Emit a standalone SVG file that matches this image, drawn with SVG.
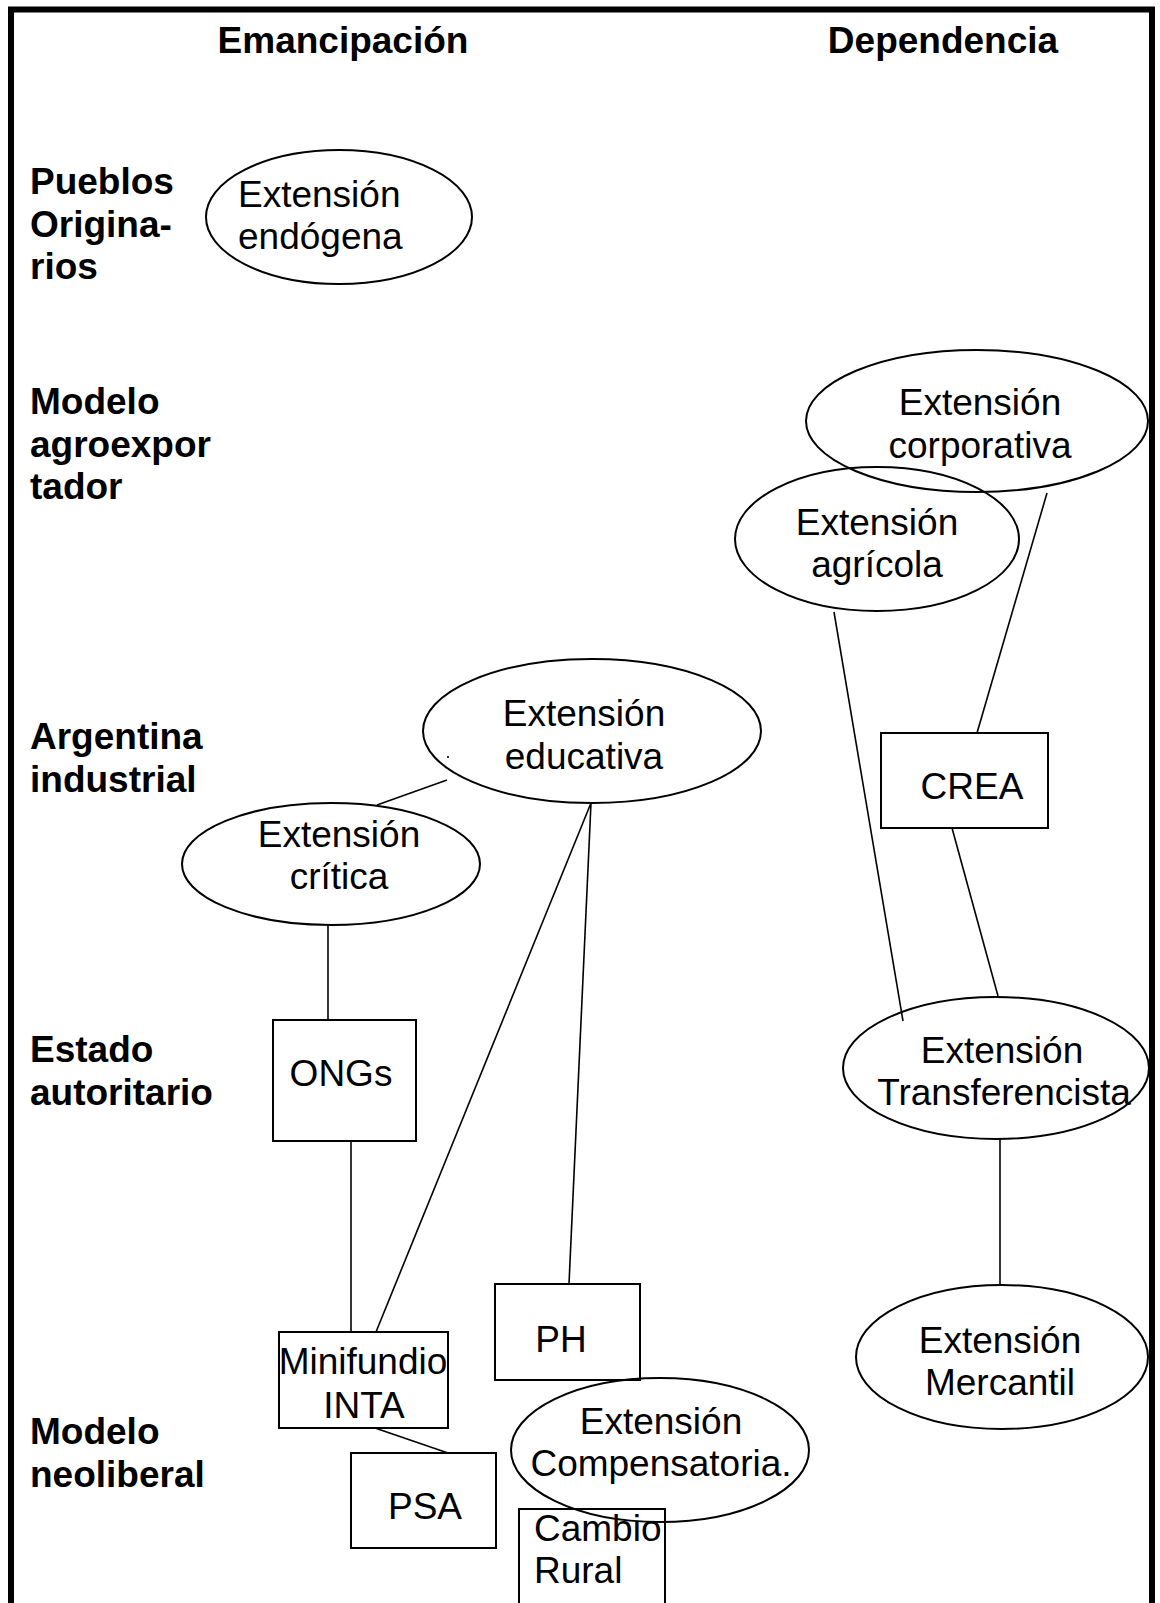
<svg xmlns="http://www.w3.org/2000/svg" width="1160" height="1603" viewBox="0 0 1160 1603">
<style>
.lbl{font-family:"Liberation Sans",Arial,sans-serif;font-size:37px;font-weight:bold;fill:#000}
.t{font-family:"Liberation Sans",Arial,sans-serif;font-size:37px;fill:#000}
.c{text-anchor:middle}
.sh{fill:none;stroke:#000;stroke-width:2}
.ln{stroke:#000;stroke-width:1.6;fill:none}
</style>
<rect width="1160" height="1603" fill="#fff"/>
<rect x="11" y="9.5" width="1141" height="1700" fill="none" stroke="#000" stroke-width="6"/>
<g id="headers">
<text class="lbl c" x="343" y="53">Emancipación</text>
<text class="lbl c" x="943" y="53">Dependencia</text>
</g>
<g id="row-labels">
<text class="lbl" x="30" y="194">Pueblos</text>
<text class="lbl" x="30" y="237">Origina-</text>
<text class="lbl" x="30" y="279">rios</text>
<text class="lbl" x="30" y="414">Modelo</text>
<text class="lbl" x="30" y="457">agroexpor</text>
<text class="lbl" x="30" y="499">tador</text>
<text class="lbl" x="30" y="749">Argentina</text>
<text class="lbl" x="30" y="792">industrial</text>
<text class="lbl" x="30" y="1062">Estado</text>
<text class="lbl" x="30" y="1105">autoritario</text>
<text class="lbl" x="30" y="1444">Modelo</text>
<text class="lbl" x="30" y="1487">neoliberal</text>
</g>
<g id="connectors">
<line class="ln" x1="447" y1="780" x2="377" y2="805"/>
<line class="ln" x1="328" y1="925" x2="328" y2="1020"/>
<line class="ln" x1="351" y1="1141" x2="351" y2="1332"/>
<line class="ln" x1="591" y1="803" x2="376" y2="1332"/>
<line class="ln" x1="591" y1="803" x2="569" y2="1284"/>
<line class="ln" x1="375" y1="1428" x2="448" y2="1453"/>
<line class="ln" x1="834" y1="612" x2="903" y2="1021"/>
<line class="ln" x1="1047" y1="493" x2="977" y2="733"/>
<line class="ln" x1="952" y1="828" x2="998" y2="996"/>
<line class="ln" x1="1000" y1="1139" x2="1000" y2="1284"/>
</g>
<g id="n-endogena">
<ellipse class="sh" cx="339" cy="217" rx="133" ry="67"/>
<text class="t" x="238" y="207">Extensión</text>
<text class="t" x="238" y="249">endógena</text>
</g>
<g id="n-corporativa">
<ellipse class="sh" cx="977" cy="421" rx="171" ry="71"/>
<text class="t c" x="980" y="415">Extensión</text>
<text class="t c" x="980" y="458">corporativa</text>
</g>
<g id="n-agricola">
<ellipse class="sh" cx="877" cy="539" rx="142" ry="72"/>
<text class="t c" x="877" y="535">Extensión</text>
<text class="t c" x="877" y="577">agrícola</text>
</g>
<g id="n-educativa">
<ellipse class="sh" cx="592" cy="731" rx="169" ry="72"/>
<text class="t c" x="584" y="726">Extensión</text>
<text class="t c" x="584" y="769">educativa</text>
<circle cx="448" cy="757" r="1.1" fill="#000"/>
</g>
<g id="n-critica">
<ellipse class="sh" cx="331" cy="864" rx="149" ry="61"/>
<text class="t c" x="339" y="847">Extensión</text>
<text class="t c" x="339" y="889">crítica</text>
</g>
<g id="n-crea">
<rect class="sh" x="881" y="733" width="167" height="95"/>
<text class="t c" x="972" y="799">CREA</text>
</g>
<g id="n-transferencista">
<ellipse class="sh" cx="996" cy="1068" rx="153" ry="71"/>
<text class="t c" x="1002" y="1063">Extensión</text>
<text class="t c" x="1004" y="1105">Transferencista</text>
</g>
<g id="n-mercantil">
<ellipse class="sh" cx="1002" cy="1357" rx="146" ry="72"/>
<text class="t c" x="1000" y="1353">Extensión</text>
<text class="t c" x="1000" y="1395">Mercantil</text>
</g>
<g id="n-ongs">
<rect class="sh" x="273" y="1020" width="143" height="121"/>
<text class="t c" x="341" y="1086">ONGs</text>
</g>
<g id="n-minifundio">
<rect class="sh" x="279" y="1332" width="169" height="96"/>
<text class="t c" x="363" y="1374">Minifundio</text>
<text class="t c" x="364" y="1418">INTA</text>
</g>
<g id="n-ph">
<rect class="sh" x="495" y="1284" width="145" height="96"/>
<text class="t c" x="561" y="1352">PH</text>
</g>
<g id="n-psa">
<rect class="sh" x="351" y="1453" width="145" height="95"/>
<text class="t c" x="425" y="1519">PSA</text>
</g>
<g id="n-cambio">
<rect class="sh" x="519" y="1509" width="146" height="200"/>
<text class="t" x="534" y="1541">Cambio</text>
<text class="t" x="534" y="1583">Rural</text>
</g>
<g id="n-compensatoria">
<ellipse class="sh" cx="660" cy="1450" rx="149" ry="72"/>
<text class="t c" x="661" y="1434">Extensión</text>
<text class="t c" x="661" y="1476">Compensatoria.</text>
</g>
</svg>
